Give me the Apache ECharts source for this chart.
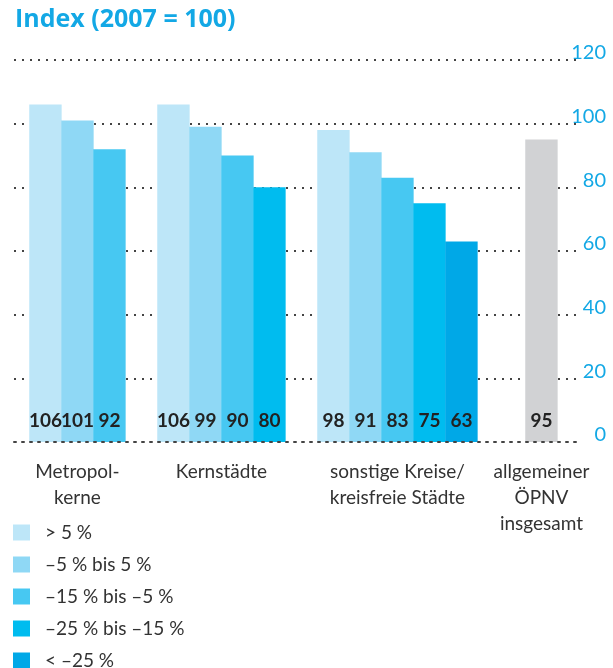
<!DOCTYPE html>
<html>
<head>
<meta charset="utf-8">
<script src="https://cdn.jsdelivr.net/npm/echarts@6/dist/echarts.min.js"></script>
<style>
  html, body { margin: 0; padding: 0; background: #fff; }
  #chart { width: 613px; height: 668px; }
</style>
</head>
<body>
<div id="chart"></div>
<script>
// Daten
const groups = ['Metropol-\nkerne', 'Kernstädte', 'sonstige Kreise/\nkreisfreie Städte', 'allgemeiner\nÖPNV\ninsgesamt'];
const classes = ['> 5 %', '–5 % bis 5 %', '–15 % bis –5 %', '–25 % bis –15 %', '< –25 %'];
const metropolkerne = [106, 101, 92];
const kernstaedte = [106, 99, 90, 80];
const sonstige = [98, 91, 83, 75, 63];
const oepnv = [95];
const yTicks = [0, 20, 40, 60, 80, 100, 120];

const classColors = ['#bde6f8', '#8fd8f5', '#47c8f2', '#00bcef', '#00a8e7'];
const greyColor = '#d1d2d4';
const cyan = '#13a8e5';
const font = 'Lato';

// Slots: jeder Balken belegt zwei halbe Slots
const groupValues = [metropolkerne, kernstaedte, sonstige];
const groupStart = [0, 8, 18, 31];
const slotCount = 32;

const slots = new Array(slotCount).fill('');
groups.forEach((g, i) => {
    const n = i < 3 ? groupValues[i].length : oepnv.length;
    slots[groupStart[i] + (n - 1)] = g;
});

const labelStyle = {
    show: true,
    position: 'insideBottom',
    distance: 12,
    fontFamily: font,
    fontWeight: 'bold',
    fontSize: 19,
    color: '#222'
};

const classSeries = classes.map((name, c) => {
    const data = new Array(slotCount).fill('-');
    groupValues.forEach((vals, g) => {
        if (c < vals.length) data[groupStart[g] + 2 * c] = vals[c];
    });
    return {
        name: name,
        type: 'bar',
        xAxisIndex: 1,
        yAxisIndex: 1,
        data: data,
        barWidth: 32.4,
        barGap: '-100%',
        clip: false,
        itemStyle: { color: classColors[c] },
        label: labelStyle,
        z: 2
    };
});

const greyData = new Array(slotCount).fill('-');
greyData[groupStart[3]] = oepnv[0];

const chart = echarts.init(document.getElementById('chart'));
chart.setOption({
    animation: false,
    title: {
        text: 'Index (2007 = 100)',
        left: 10,
        top: 2,
        textStyle: { fontFamily: 'Open Sans', fontWeight: 'bold', fontSize: 25, color: cyan }
    },
    legend: {
        data: classes,
        orient: 'vertical',
        left: 8,
        top: 518,
        height: 160,
        itemWidth: 17,
        itemHeight: 16,
        itemGap: 13,
        icon: 'rect',
        selectedMode: false,
        textStyle: { fontFamily: font, fontSize: 19, lineHeight: 16, color: '#333', padding: [0, 0, 0, 10] }
    },
    grid: [
        { left: 14, right: 33, top: 60, bottom: 226 },
        { left: 37.45, right: 63.55, top: 60, bottom: 226 }
    ],
    xAxis: [
        {
            type: 'value',
            gridIndex: 0,
            min: 0,
            max: 1,
            axisLabel: { show: false },
            axisTick: { show: false },
            splitLine: { show: false },
            axisLine: { show: true, lineStyle: { color: '#444', width: 2, type: [2, 6] } },
            z: 5
        },
        {
            type: 'category',
            gridIndex: 1,
            data: slots,
            axisLine: { show: false },
            axisTick: { show: false },
            axisLabel: {
                interval: 0,
                margin: 17,
                fontFamily: font,
                fontSize: 19,
                lineHeight: 26,
                color: '#333',
                verticalAlign: 'top'
            }
        }
    ],
    yAxis: [
        {
            type: 'value',
            gridIndex: 0,
            position: 'right',
            min: yTicks[0],
            max: yTicks[yTicks.length - 1],
            interval: 20,
            axisLine: { show: false },
            axisTick: { show: false },
            axisLabel: {
                margin: 26,
                align: 'right',
                verticalAlign: 'bottom',
                lineHeight: 14,
                fontFamily: font,
                fontSize: 20,
                color: cyan
            },
            splitLine: { show: true, lineStyle: { color: '#444', width: 2, type: [2, 6] } }
        },
        {
            type: 'value',
            gridIndex: 1,
            min: yTicks[0],
            max: yTicks[yTicks.length - 1],
            interval: 20,
            show: false
        }
    ],
    series: classSeries.concat([{
        name: 'allgemeiner ÖPNV insgesamt',
        type: 'bar',
        xAxisIndex: 1,
        yAxisIndex: 1,
        data: greyData,
        barWidth: 32.4,
        barGap: '-100%',
        clip: false,
        itemStyle: { color: greyColor },
        label: labelStyle,
        z: 2
    }])
});
</script>
</body>
</html>
